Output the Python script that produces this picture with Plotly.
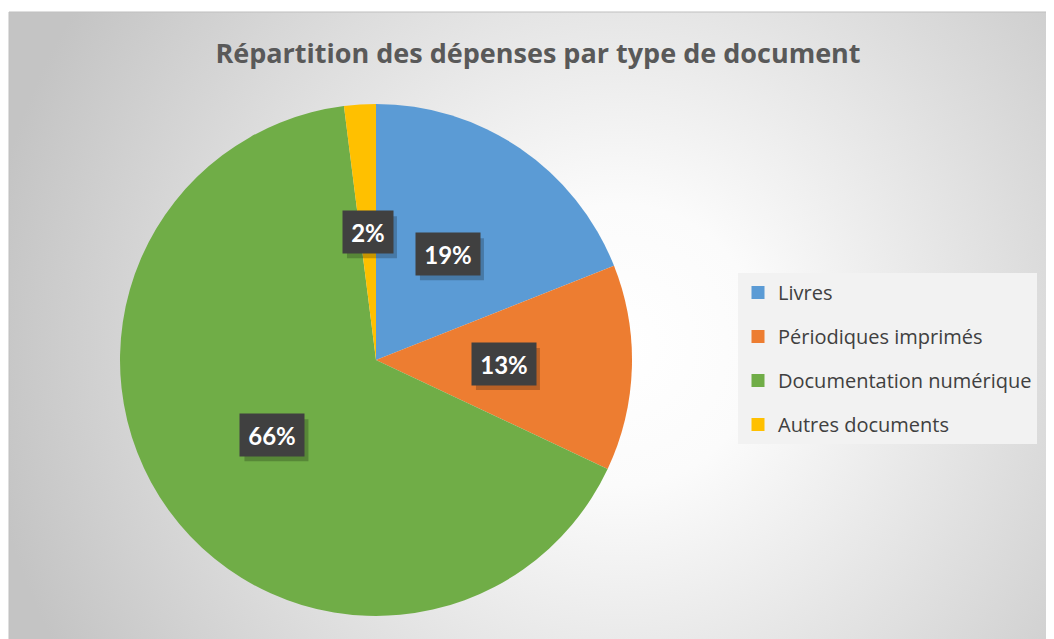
import base64
import math
import plotly.graph_objects as go

# ---- data ----
categories = ["Livres", "Périodiques imprimés", "Documentation numérique", "Autres documents"]
values = [19, 13, 66, 2]
colors = ["#5B9BD5", "#ED7D31", "#70AD47", "#FFC000"]
title_text = "Répartition des dépenses par type de document"

W, H = 1054, 639
OFF = 8  # page body margin


def fx(px):
    return (px - OFF) / W


def fy(py):
    return 1 - (py - OFF) / H


# ---- background gradient (chart area), screen coords ----
sx0, sy0 = 9, 12
bw, bh = W + OFF - sx0, H + OFF - sy0
svg = f'''<svg xmlns="http://www.w3.org/2000/svg" width="{bw}" height="{bh}" viewBox="0 0 {bw} {bh}">
<defs><radialGradient id="g" gradientUnits="userSpaceOnUse" cx="{620-sx0}" cy="{345-sy0}" r="640">
<stop offset="0" stop-color="#ffffff"/><stop offset="0.22" stop-color="#fbfbfb"/>
<stop offset="1" stop-color="#c4c4c4"/></radialGradient></defs>
<rect x="0" y="0" width="{bw}" height="{bh}" fill="url(#g)"/></svg>'''
svg_uri = "data:image/svg+xml;base64," + base64.b64encode(svg.encode()).decode()

# ---- pie geometry (domain in paper fraction) ----
dom_x = [fx(120), fx(632)]
dom_y = [fy(616), fy(104)]

fig = go.Figure()
fig.add_trace(go.Pie(
    labels=categories, values=values, sort=False, direction="clockwise", rotation=0,
    marker=dict(colors=colors, line=dict(width=0)),
    textinfo="none", showlegend=False, domain=dict(x=dom_x, y=dom_y),
))

# dummy traces for legend with spacing
for c, col in zip(categories, colors):
    fig.add_trace(go.Scatter(
        x=[None], y=[None], mode="markers", name=c, legendgroup=c,
        marker=dict(symbol="square", size=13, color=col, line=dict(width=0)),
    ))

# ---- labels computed from data ----
pcx = (dom_x[0] + dom_x[1]) / 2 * W
pcy = (1 - (dom_y[0] + dom_y[1]) / 2) * H
R = min((dom_x[1] - dom_x[0]) * W, (dom_y[1] - dom_y[0]) * H) / 2
total = sum(values)
cum = 0
shapes = [dict(type="rect", xref="paper", yref="paper", x0=fx(sx0), y0=-0.1, x1=1.1, y1=fy(sy0),
               line=dict(color="#bfbfbf", width=1), layer="above")]
annotations = []
for v in values:
    theta = 2 * math.pi * (cum + v / 2) / total
    cum += v
    px = pcx + 0.5 * R * math.sin(theta)
    py = pcy - 0.5 * R * math.cos(theta)
    txt = f"{round(100 * v / total)}%"
    wbox = 14 * len(txt) + 22
    hbox = 42
    # drop shadow as a shape
    shapes.append(dict(
        type="rect", xref="paper", yref="paper", layer="above",
        x0=(px - wbox / 2 + 4) / W, x1=(px + wbox / 2 + 4) / W,
        y0=1 - (py + hbox / 2 + 5) / H, y1=1 - (py - hbox / 2 + 5) / H,
        fillcolor="rgba(0,0,0,0.22)", line=dict(width=0),
    ))
    annotations.append(dict(
        x=px / W, y=1 - py / H, text=f"<b>{txt}</b>",
        xref="paper", yref="paper", xanchor="center", yanchor="middle",
        showarrow=False, width=wbox - 6, height=hbox - 6, borderpad=3,
        bgcolor="#404040", font=dict(size=24, color="white", family="Lato"),
    ))

fig.update_layout(
    width=W, height=H,
    margin=dict(l=0, r=0, t=0, b=0),
    paper_bgcolor="white", plot_bgcolor="rgba(0,0,0,0)",
    xaxis=dict(visible=False), yaxis=dict(visible=False),
    title=dict(text=f"<b>{title_text}</b>", x=fx(538), xanchor="center", y=fy(54), yanchor="middle",
               font=dict(family="Open Sans", size=27, color="#595959")),
    legend=dict(x=fx(738), y=fy(273), xanchor="left", yanchor="top",
                bgcolor="#f2f2f2", font=dict(family="Open Sans", size=20, color="#404040"),
                tracegroupgap=15, itemwidth=30),
    images=[dict(source=svg_uri, xref="paper", yref="paper", x=fx(sx0), y=fy(sy0),
                 sizex=bw / W, sizey=bh / H, xanchor="left", yanchor="top",
                 sizing="stretch", layer="below")],
    shapes=shapes,
    annotations=annotations,
)

fig.write_html("out.html")
